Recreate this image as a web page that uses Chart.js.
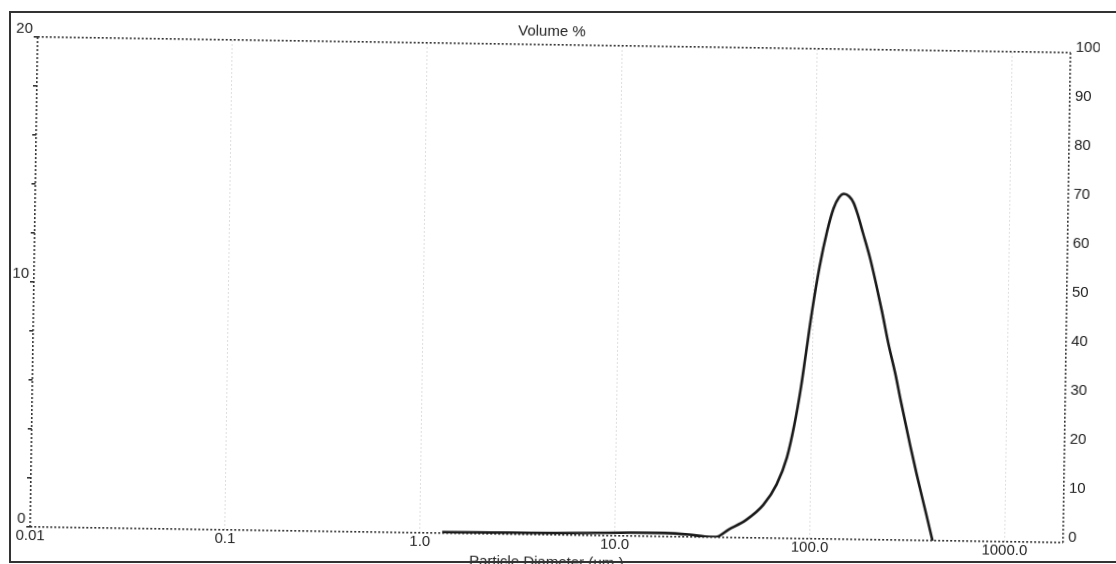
<!DOCTYPE html>
<html>
<head>
<meta charset="utf-8">
<script src="https://cdn.jsdelivr.net/npm/chart.js@4.4.1/dist/chart.umd.min.js"></script>
<style>
  html, body { margin: 0; padding: 0; background: #fff; overflow: hidden; }
  body { width: 1116px; height: 564px; position: relative; }
  #chart { position: absolute; left: 0; top: 0; transform: rotate(0.87deg); transform-origin: 558px 286px; }
  #frame { position: absolute; left: 9px; top: 11px; width: 1200px; height: 552px; box-sizing: border-box; border: 2px solid #333; pointer-events: none; }
</style>
</head>
<body>
<canvas id="chart" width="1116" height="572"></canvas>
<div id="frame"></div>
<script>
// particle size (um) and volume %
const sizes  = [1.3, 2, 3, 5, 8, 12, 18, 24, 29, 33, 38.4, 47, 57.4, 67, 75.3, 81.8, 87.9, 92, 98.8, 107, 116.6, 125, 133, 141, 150, 158, 166, 178, 194, 210, 226, 245, 267, 286, 322, 350, 394, 427];
const volume = [0.05, 0.06, 0.07, 0.08, 0.11, 0.14, 0.15, 0.1, 0.03, 0.02, 0.33, 0.73, 1.35, 2.2, 3.3, 4.65, 6.2, 7.4, 9.3, 11.1, 12.6, 13.5, 13.95, 14.1, 14.0, 13.75, 13.3, 12.5, 11.5, 10.4, 9.3, 8.0, 6.8, 5.7, 3.9, 2.7, 1.1, 0];

const xMin = 0.01, xMax = 2000;
const xTickValues = [0.01, 0.1, 1, 10, 100, 1000];
const xTickLabels = ['0.01', '0.1', '1.0', '10.0', '100.0', '1000.0'];
const leftLabels = [0, 10, 20];

const edge = '#333';
const font = { family: "'Liberation Sans', Arial, sans-serif", size: 15, weight: 'normal' };

const ctx = document.getElementById('chart').getContext('2d');

new Chart(ctx, {
  type: 'line',
  data: {
    datasets: [{
      data: sizes.map((s, i) => ({ x: s, y: volume[i] })),
      yAxisID: 'y',
      borderColor: '#1a1a1a',
      borderWidth: 2.6,
      pointRadius: 0,
      fill: false,
      cubicInterpolationMode: 'monotone'
    }]
  },
  options: {
    responsive: false,
    animation: false,
    layout: { padding: { left: 0, right: 20, top: 0, bottom: 0 } },
    plugins: {
      legend: { display: false },
      tooltip: { enabled: false },
      title: {
        display: true,
        text: 'Volume %',
        color: '#222',
        font: font,
        padding: { top: 23, bottom: 4 }
      }
    },
    scales: {
      x: {
        type: 'logarithmic',
        min: xMin,
        max: xMax,
        afterBuildTicks: (scale) => {
          scale.ticks = xTickValues.concat([xMax]).map(v => ({ value: v }));
        },
        afterFit: (scale) => { scale.height = 37; },
        ticks: {
          autoSkip: false,
          maxRotation: 0,
          padding: 0,
          color: '#222',
          font: font,
          callback: (v) => {
            const i = xTickValues.indexOf(v);
            return i >= 0 ? xTickLabels[i] : '';
          }
        },
        grid: {
          drawTicks: false,
          lineWidth: (c) => (c.tick && (c.tick.value === xMin || c.tick.value === xMax)) ? 1.6 : 1,
          color: (c) => (c.tick && (c.tick.value === xMin || c.tick.value === xMax)) ? edge : 'rgba(0,0,0,0.13)'
        },
        border: { display: false, dash: [2, 2] },
        title: {
          display: true,
          text: 'Particle Diameter (\u00b5m.)',
          color: '#222',
          font: font,
          padding: { top: 0, bottom: 0 }
        }
      },
      y: {
        position: 'left',
        min: 0,
        max: 20,
        afterFit: (scale) => { scale.width = 34; },
        ticks: {
          stepSize: 2,
          padding: 1,
          labelOffset: -8,
          color: '#222',
          font: font,
          callback: (v) => leftLabels.includes(v) ? String(v) : ''
        },
        grid: {
          drawTicks: true,
          tickLength: 4,
          tickColor: edge,
          lineWidth: 1.6,
          color: (c) => (c.tick && (c.tick.value === 0 || c.tick.value === 20)) ? edge : 'rgba(0,0,0,0)'
        },
        border: { display: false, dash: [2, 2] }
      },
      y2: {
        position: 'right',
        min: 0,
        max: 100,
        afterFit: (scale) => { scale.width = 29; },
        ticks: {
          stepSize: 10,
          padding: 5,
          labelOffset: -5,
          color: '#222',
          font: font
        },
        grid: { drawOnChartArea: false, drawTicks: false },
        border: { display: false }
      }
    }
  }
});
</script>
</body>
</html>
